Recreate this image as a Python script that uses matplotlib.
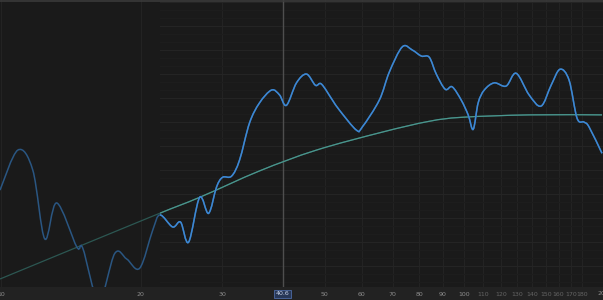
import matplotlib
matplotlib.use("Agg")
import matplotlib.pyplot as plt
import numpy as np
from matplotlib.patches import Rectangle, PathPatch
from matplotlib.path import Path

# measured response (frequency in Hz, level in dB)
resp_freq = [9.93, 10.85, 11.69, 12.41, 13.17, 14.55, 14.99, 16.23, 17.58, 18.65,
             19.90, 21.23, 22.00, 23.44, 24.39, 25.38, 26.81, 28.03, 29.17, 30.05,
             31.43, 32.70, 34.37, 36.12, 38.34, 39.89, 41.30, 43.41, 45.62, 47.70,
             49.15, 51.91, 53.74, 58.48, 60.25, 65.56, 68.90, 73.50, 77.24, 80.78,
             84.05, 87.03, 91.00, 94.22, 98.53, 102.0, 104.6, 107.2, 110.5, 116.1,
             123.2, 129.5, 138.1, 146.6, 154.1, 161.1, 168.5, 175.3, 181.5, 186.1, 198.5]
resp_db = [-23.5, -18.5, -21.0, -29.6, -25.1, -30.6, -30.75, -37.25, -31.4, -32.1,
           -33.25, -28.5, -26.6, -28.1, -27.5, -30.0, -24.4, -26.4, -23.1, -21.9,
           -21.75, -19.75, -15.1, -12.6, -11.0, -11.6, -12.9, -10.1, -9.0, -10.4,
           -10.25, -12.25, -13.5, -16.0, -15.6, -12.25, -8.75, -5.6, -6.0, -6.75,
           -6.9, -9.0, -10.9, -10.6, -12.25, -14.1, -15.9, -12.6, -11.0, -10.1,
           -10.5, -8.9, -11.6, -13.0, -10.4, -8.4, -9.75, -14.5, -15.0, -15.6, -18.9]

# target curve
target_freq = [9.93, 20.91, 26.81, 36.12, 47.94, 66.55, 84.05, 99.0, 138.1, 198.5]
target_db = [-34.6, -26.9, -24.4, -21.1, -18.5, -16.25, -14.9, -14.4, -14.1, -14.1]

tick_freqs = [10, 20, 30, 50, 60, 70, 80, 90, 100, 110, 120, 130, 140, 150, 160, 170, 180]
tick_labels = [str(t) for t in tick_freqs]
edge_freq = 200
edge_label = "200"
cursor_freq = 40.5
cursor_label = "40.6"
range_start = 22.0


def smooth_path(freqs, levels):
    # Catmull-Rom through the points, drawn as cubic bezier segments (log-x space)
    x = np.log10(freqs)
    y = np.asarray(levels, float)
    p = np.column_stack([x, y])
    p = np.vstack([p[0], p, p[-1]])
    verts = [p[1]]
    codes = [Path.MOVETO]
    for i in range(1, len(p) - 2):
        c1 = p[i] + (p[i + 1] - p[i - 1]) / 6
        c2 = p[i + 1] - (p[i + 2] - p[i]) / 6
        verts += [c1, c2, p[i + 1]]
        codes += [Path.CURVE4] * 3
    v = np.array(verts)
    v[:, 0] = 10 ** v[:, 0]
    return Path(v, codes)


bg = "#1a1a1a"
fig = plt.figure(figsize=(6.03, 3.0), dpi=100, facecolor="#222222")
ax = fig.add_axes([0, 13 / 300, 1, 287 / 300])
ax.set_facecolor(bg)
ax.set_xscale("log")
ax.set_xlim(9.93, 199.5)
ax.set_ylim(-35.6, 0.25)
for s in ax.spines.values():
    s.set_visible(False)

# grid
for f in tick_freqs:
    ax.axvline(f, color="#232323", lw=0.8, zorder=1)
for v in range(-35, 1):
    c = "#242424" if v % 3 == 0 else "#1d1d1d"
    ax.plot([range_start, 199.5], [v, v], color=c, lw=0.8, zorder=1)
ax.axvline(cursor_freq, color="#4e4e4e", lw=1.0, zorder=2)

# dim part (left of range) and bright part
clip = Rectangle((range_start, -40), 300, 50, transform=ax.transData)
for fr, lv, dim, bright, lw, z in [(target_freq, target_db, "#2c5752", "#4a968e", 0.9, 3),
                                    (resp_freq, resp_db, "#2a5682", "#3d88d4", 1.1, 4)]:
    path = smooth_path(fr, lv)
    ax.add_patch(PathPatch(path, fc="none", ec=dim, lw=lw, zorder=z))
    hp = ax.add_patch(PathPatch(path, fc="none", ec=bright, lw=lw, zorder=z))
    hp.set_clip_path(clip)

# ticks in bottom strip
ax.xaxis.set_major_locator(matplotlib.ticker.FixedLocator(tick_freqs))
ax.xaxis.set_minor_locator(matplotlib.ticker.NullLocator())
ax.set_xticklabels(tick_labels)
ax.tick_params(axis="x", length=0, pad=3.5, labelsize=4.5)
for lab, f in zip(ax.get_xticklabels(), tick_freqs):
    lab.set_color("#8c8c8c" if f <= 100 else "#646464")
ax.set_yticks([])

# last label sits on the right edge and is cut by it
ax.text(edge_freq, -0.024, edge_label, transform=ax.get_xaxis_transform(),
        ha="center", va="center", fontsize=4.5, color="#8c8c8c", clip_on=False)

ax.text(cursor_freq, -0.024, cursor_label, transform=ax.get_xaxis_transform(),
        ha="center", va="center", fontsize=4.5, color="#c8d4ea", clip_on=False,
        bbox=dict(boxstyle="square,pad=0.3", fc="#283858", ec="#4d6aa5", lw=0.6))

# top border
fig.add_artist(plt.Line2D([0, 1], [0.997, 0.997], color="#3a3a3a", lw=1.2))

fig.savefig("out.png", dpi=100, facecolor=fig.get_facecolor())
